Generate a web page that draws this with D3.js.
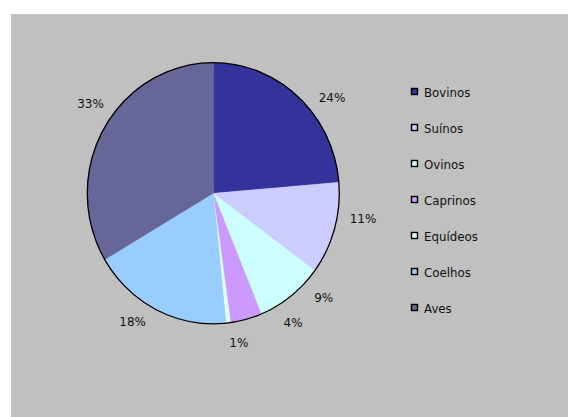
<!DOCTYPE html>
<html>
<head>
<meta charset="utf-8">
<script src="https://cdn.jsdelivr.net/npm/d3@7"></script>
<style>
  html, body { margin: 0; padding: 0; background: #ffffff; }
  svg { display: block; }
</style>
</head>
<body>
<script>
// ---- data ----
const categories = ["Bovinos", "Suínos", "Ovinos", "Caprinos", "Equídeos", "Coelhos", "Aves"];
const values = [23.6, 11.4, 8.7, 4.0, 0.6, 18.1, 33.4];
const colors = ["#333399", "#CCCCFF", "#CCFFFF", "#CC99FF", "#DDFFFF", "#99CCFF", "#666699"];

// ---- layout ----
const W = 568, H = 417;
const cx = 213.3, cy = 193.3, rx = 126, ry = 130.6;
const labelRadius = 152;
// angular adjustment (degrees) applied to label placement to avoid crowding
const labelAngleShift = [8.8, -5.9, -8.5, -16.5, -2.8, 5.2, 6.4];
const font = "'DejaVu Sans', Verdana, sans-serif";

const svg = d3.select("body").append("svg").attr("width", W).attr("height", H);

// chart area
svg.append("rect").attr("x", 11).attr("y", 14).attr("width", W - 11).attr("height", H - 14)
  .attr("fill", "#C0C0C0");

const data = categories.map((c, i) => ({ name: c, value: values[i], color: colors[i], i }));
const pie = d3.pie().value(d => d.value).sort(null);
const arcs = pie(data);
const arc = d3.arc().innerRadius(0).outerRadius(ry);

const g = svg.append("g").attr("transform", `translate(${cx},${cy}) scale(${rx / ry},1)`);
g.selectAll("path.slice").data(arcs).enter().append("path")
  .attr("class", "slice")
  .attr("d", arc)
  .attr("fill", d => d.data.color)
  .attr("stroke", d => d.data.color)
  .attr("stroke-width", 0.3);

g.append("circle").attr("r", ry).attr("fill", "none")
  .attr("stroke", "#000").attr("stroke-width", 1.3)
  .attr("vector-effect", "non-scaling-stroke");

// percentage labels
const total = d3.sum(values);
svg.append("g").selectAll("text").data(arcs).enter().append("text")
  .attr("x", d => {
    const a = (d.startAngle + d.endAngle) / 2 + labelAngleShift[d.index] * Math.PI / 180;
    return cx + labelRadius * Math.sin(a);
  })
  .attr("y", d => {
    const a = (d.startAngle + d.endAngle) / 2 + labelAngleShift[d.index] * Math.PI / 180;
    return cy - labelRadius * Math.cos(a);
  })
  .attr("text-anchor", "middle")
  .attr("dominant-baseline", "central")
  .attr("font-family", font)
  .attr("font-size", 12)
  .attr("fill", "#111")
  .text(d => Math.round(d.data.value / total * 100) + "%");

// legend
const legend = svg.append("g").attr("transform", "translate(411,0)");
const ly = d3.scalePoint().domain(categories).range([92, 308]);
const items = legend.selectAll("g").data(data).enter().append("g")
  .attr("transform", d => `translate(0,${ly(d.name)})`);
items.append("rect").attr("x", 0.5).attr("y", -3.5).attr("width", 6).attr("height", 6)
  .attr("fill", d => d.color).attr("stroke", "#000").attr("stroke-width", 1.4);
items.append("text").attr("x", 13).attr("y", 0.5)
  .attr("dominant-baseline", "central")
  .attr("font-family", font).attr("font-size", 11.8).attr("fill", "#111")
  .text(d => d.name);
</script>
</body>
</html>
